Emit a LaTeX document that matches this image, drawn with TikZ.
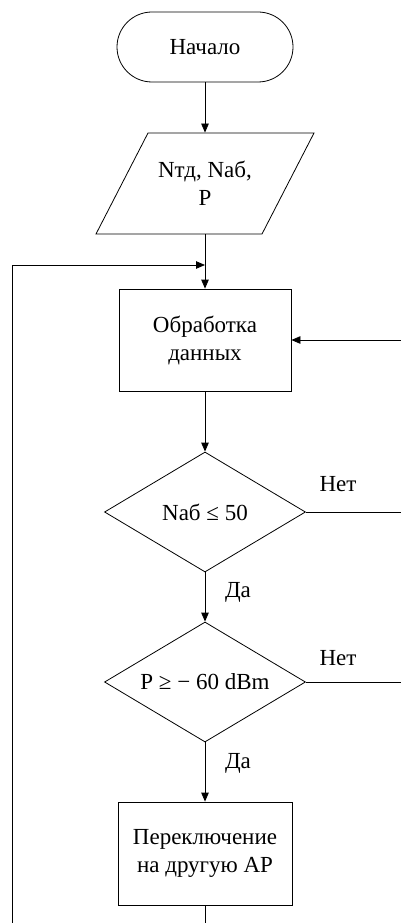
\documentclass[tikz,border=0pt]{standalone}
\usepackage{fontspec}
\setmainfont{Liberation Serif}
\usetikzlibrary{shapes.geometric,arrows.meta}

\begin{document}
\begin{tikzpicture}[x=1pt,y=-1pt,
  font=\fontsize{23}{28}\selectfont,
  line width=0.8pt,
  >={Triangle[length=9pt,width=7.5pt]},
  every node/.style={align=center,inner sep=0pt},
  terminal/.style={draw,rounded corners=35pt,minimum width=176pt,minimum height=70pt},
  process/.style={draw,rectangle,minimum width=172pt,minimum height=102pt},
  decision/.style={draw,diamond,aspect=1.675,minimum width=201pt,minimum height=120pt},
  iobox/.style={minimum width=120pt,minimum height=101pt},
  flow/.style={->}
]
\useasboundingbox (0,0) rectangle (401,923);

% Blocks
\node[terminal] (start) at (205,47) {Начало};

\node[iobox] (input) at (205,183.5) {Nтд, Nаб,\\P};
\draw (148,133) -- (314,133) -- (262,234) -- (96,234) -- cycle;

\node[process] (proc) at (205,340) {Обработка\\данных};
\node[decision] (cnt) at (205,512) {Nаб ≤ 50};
\node[decision] (pwr) at (205,682) {P ≥ − 60 dBm};
\node[process,minimum width=174pt,minimum height=103pt] (switch) at (205,853.5) {Переключение\\на другую AP};

% Branch labels
\node (no1) at (338,484) {Нет};
\node (yes1) at (238,592) {Да};
\node (no2) at (338,658) {Нет};
\node (yes2) at (238,763) {Да};

% Junction where the return loop enters the main line
\coordinate (join) at (205,265);

% Main flow
\draw[flow] (start) -- (input);
\draw[flow] (input.south) -- (proc.north);
\draw[flow] (proc) -- (cnt);
\draw[flow] (cnt) -- (pwr);
\draw[flow] (pwr) -- (switch);

% "No" branches return to data processing
\draw[flow] (cnt.east) -- (430,512) -- (430,340) -- (proc.east);
\draw (pwr.east) -- (430,682) -- (430,512);

% Loop back after switching
\draw[flow] (switch.south) -- (205,950) -- (12,950) -- (12,265) -- (join);
\end{tikzpicture}
\end{document}
